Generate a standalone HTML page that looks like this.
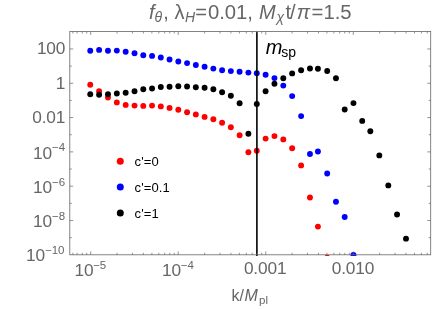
<!DOCTYPE html>
<html><head><meta charset="utf-8"><title>plot</title>
<style>
html,body{margin:0;padding:0;background:#fff;}
body{width:436px;height:309px;overflow:hidden;}
svg{display:block;will-change:transform;}
text{font-family:"Liberation Sans",sans-serif;}
</style></head><body>
<svg width="436" height="309" viewBox="0 0 436 309">
<rect width="436" height="309" fill="#fff"/>
<defs><clipPath id="cp"><rect x="69.8" y="31.5" width="360.9" height="224.4"/></clipPath></defs>
<g clip-path="url(#cp)">
<g fill="#ff0000"><circle cx="90.25" cy="84.70" r="2.95"/><circle cx="99.11" cy="91.30" r="2.95"/><circle cx="107.96" cy="97.60" r="2.95"/><circle cx="116.82" cy="102.40" r="2.95"/><circle cx="125.68" cy="104.90" r="2.95"/><circle cx="134.53" cy="105.60" r="2.95"/><circle cx="143.29" cy="105.90" r="2.95"/><circle cx="152.05" cy="105.60" r="2.95"/><circle cx="160.81" cy="106.40" r="2.95"/><circle cx="169.56" cy="107.90" r="2.95"/><circle cx="178.32" cy="109.70" r="2.95"/><circle cx="187.08" cy="112.20" r="2.95"/><circle cx="195.83" cy="114.40" r="2.95"/><circle cx="204.59" cy="116.90" r="2.95"/><circle cx="213.35" cy="119.20" r="2.95"/><circle cx="222.10" cy="122.70" r="2.95"/><circle cx="230.86" cy="127.30" r="2.95"/><circle cx="239.62" cy="135.30" r="2.95"/><circle cx="248.38" cy="152.20" r="2.95"/><circle cx="256.78" cy="150.70" r="2.95"/><circle cx="265.59" cy="138.60" r="2.95"/><circle cx="274.45" cy="136.10" r="2.95"/><circle cx="283.30" cy="139.40" r="2.95"/><circle cx="292.16" cy="148.20" r="2.95"/><circle cx="301.12" cy="165.40" r="2.95"/><circle cx="309.97" cy="197.50" r="2.95"/><circle cx="317.93" cy="226.60" r="2.95"/><circle cx="327.19" cy="257.70" r="2.95"/></g>
<g fill="#0000ff"><circle cx="90.25" cy="50.80" r="2.95"/><circle cx="99.11" cy="49.90" r="2.95"/><circle cx="107.96" cy="50.70" r="2.95"/><circle cx="116.82" cy="50.60" r="2.95"/><circle cx="125.68" cy="51.80" r="2.95"/><circle cx="134.53" cy="53.30" r="2.95"/><circle cx="143.29" cy="55.20" r="2.95"/><circle cx="152.05" cy="55.90" r="2.95"/><circle cx="160.81" cy="57.50" r="2.95"/><circle cx="169.56" cy="59.50" r="2.95"/><circle cx="178.32" cy="61.50" r="2.95"/><circle cx="187.08" cy="63.10" r="2.95"/><circle cx="195.83" cy="65.00" r="2.95"/><circle cx="204.59" cy="66.80" r="2.95"/><circle cx="213.35" cy="68.60" r="2.95"/><circle cx="222.10" cy="70.30" r="2.95"/><circle cx="230.86" cy="71.10" r="2.95"/><circle cx="239.62" cy="71.80" r="2.95"/><circle cx="248.38" cy="72.60" r="2.95"/><circle cx="256.78" cy="73.30" r="2.95"/><circle cx="265.59" cy="74.80" r="2.95"/><circle cx="274.45" cy="78.10" r="2.95"/><circle cx="283.30" cy="85.60" r="2.95"/><circle cx="292.16" cy="96.10" r="2.95"/><circle cx="301.12" cy="116.10" r="2.95"/><circle cx="309.97" cy="154.00" r="2.95"/><circle cx="317.93" cy="151.45" r="2.95"/><circle cx="327.19" cy="173.50" r="2.95"/><circle cx="335.95" cy="201.70" r="2.95"/><circle cx="344.70" cy="217.00" r="2.95"/><circle cx="353.46" cy="255.00" r="2.95"/></g>
<g fill="#000000"><circle cx="90.25" cy="94.30" r="2.95"/><circle cx="99.11" cy="94.80" r="2.95"/><circle cx="107.96" cy="94.30" r="2.95"/><circle cx="116.82" cy="93.50" r="2.95"/><circle cx="125.68" cy="92.80" r="2.95"/><circle cx="134.53" cy="91.30" r="2.95"/><circle cx="143.29" cy="89.20" r="2.95"/><circle cx="152.05" cy="88.50" r="2.95"/><circle cx="160.81" cy="87.00" r="2.95"/><circle cx="169.56" cy="86.70" r="2.95"/><circle cx="178.32" cy="86.20" r="2.95"/><circle cx="187.08" cy="86.50" r="2.95"/><circle cx="195.83" cy="87.20" r="2.95"/><circle cx="204.59" cy="87.70" r="2.95"/><circle cx="213.35" cy="89.20" r="2.95"/><circle cx="222.10" cy="92.30" r="2.95"/><circle cx="230.86" cy="95.80" r="2.95"/><circle cx="239.62" cy="103.30" r="2.95"/><circle cx="248.38" cy="133.80" r="2.95"/><circle cx="256.78" cy="104.00" r="2.95"/><circle cx="265.59" cy="91.20" r="2.95"/><circle cx="274.45" cy="83.70" r="2.95"/><circle cx="283.30" cy="78.20" r="2.95"/><circle cx="292.16" cy="73.40" r="2.95"/><circle cx="301.12" cy="70.20" r="2.95"/><circle cx="309.97" cy="68.50" r="2.95"/><circle cx="317.93" cy="68.70" r="2.95"/><circle cx="327.19" cy="71.00" r="2.95"/><circle cx="335.95" cy="78.30" r="2.95"/><circle cx="344.70" cy="109.50" r="2.95"/><circle cx="353.46" cy="103.10" r="2.95"/><circle cx="362.22" cy="120.90" r="2.95"/><circle cx="370.32" cy="131.30" r="2.95"/><circle cx="379.33" cy="155.40" r="2.95"/><circle cx="388.29" cy="185.40" r="2.95"/><circle cx="397.05" cy="214.50" r="2.95"/><circle cx="406.00" cy="238.65" r="2.95"/></g>
<line x1="256.9" y1="31.5" x2="256.9" y2="256" stroke="#000" stroke-width="1.6"/>
</g>
<rect x="69.8" y="31.5" width="360.9" height="223.3" fill="none" stroke="#666666" stroke-width="0.8"/>
<path d="M72.90 254.8v-2.0M72.90 31.5v2.0 M77.14 254.8v-2.0M77.14 31.5v2.0 M82.22 254.8v-2.0M82.22 31.5v2.0 M86.69 254.8v-2.0M86.69 31.5v2.0 M90.70 254.8v-3.4M90.70 31.5v3.4 M117.05 254.8v-2.0M117.05 31.5v2.0 M132.46 254.8v-2.0M132.46 31.5v2.0 M143.40 254.8v-2.0M143.40 31.5v2.0 M151.88 254.8v-2.0M151.88 31.5v2.0 M158.81 254.8v-2.0M158.81 31.5v2.0 M164.67 254.8v-2.0M164.67 31.5v2.0 M169.75 254.8v-2.0M169.75 31.5v2.0 M174.22 254.8v-2.0M174.22 31.5v2.0 M178.23 254.8v-3.4M178.23 31.5v3.4 M204.58 254.8v-2.0M204.58 31.5v2.0 M219.99 254.8v-2.0M219.99 31.5v2.0 M230.93 254.8v-2.0M230.93 31.5v2.0 M239.41 254.8v-2.0M239.41 31.5v2.0 M246.34 254.8v-2.0M246.34 31.5v2.0 M252.20 254.8v-2.0M252.20 31.5v2.0 M257.28 254.8v-2.0M257.28 31.5v2.0 M261.75 254.8v-2.0M261.75 31.5v2.0 M265.76 254.8v-3.4M265.76 31.5v3.4 M292.11 254.8v-2.0M292.11 31.5v2.0 M307.52 254.8v-2.0M307.52 31.5v2.0 M318.46 254.8v-2.0M318.46 31.5v2.0 M326.94 254.8v-2.0M326.94 31.5v2.0 M333.87 254.8v-2.0M333.87 31.5v2.0 M339.73 254.8v-2.0M339.73 31.5v2.0 M344.81 254.8v-2.0M344.81 31.5v2.0 M349.28 254.8v-2.0M349.28 31.5v2.0 M353.29 254.8v-3.4M353.29 31.5v3.4 M379.64 254.8v-2.0M379.64 31.5v2.0 M395.05 254.8v-2.0M395.05 31.5v2.0 M405.99 254.8v-2.0M405.99 31.5v2.0 M414.47 254.8v-2.0M414.47 31.5v2.0 M421.40 254.8v-2.0M421.40 31.5v2.0 M427.26 254.8v-2.0M427.26 31.5v2.0 M69.8 237.66h2.0M430.7 237.66h-2.0 M69.8 220.50h3.4M430.7 220.50h-3.4 M69.8 203.35h2.0M430.7 203.35h-2.0 M69.8 186.19h3.4M430.7 186.19h-3.4 M69.8 169.04h2.0M430.7 169.04h-2.0 M69.8 151.88h3.4M430.7 151.88h-3.4 M69.8 134.73h2.0M430.7 134.73h-2.0 M69.8 117.57h3.4M430.7 117.57h-3.4 M69.8 100.42h2.0M430.7 100.42h-2.0 M69.8 83.26h3.4M430.7 83.26h-3.4 M69.8 66.11h2.0M430.7 66.11h-2.0 M69.8 48.95h3.4M430.7 48.95h-3.4" stroke="#666666" stroke-width="0.7" fill="none"/>
<g fill="#666666">
<text x="65.3" y="54.25" text-anchor="end" font-size="17.3" letter-spacing="-0.15">100</text>
<text x="65.3" y="88.56" text-anchor="end" font-size="17.3" letter-spacing="-0.15">1</text>
<text x="65.3" y="122.87" text-anchor="end" font-size="17.3" letter-spacing="-0.15">0.01</text>
<text x="51.90" y="158.68" text-anchor="end" font-size="17.3" letter-spacing="-0.15">10</text><text x="52.10" y="151.38" font-size="11.5" letter-spacing="-0.15">−4</text>
<text x="51.90" y="192.99" text-anchor="end" font-size="17.3" letter-spacing="-0.15">10</text><text x="52.10" y="185.69" font-size="11.5" letter-spacing="-0.15">−6</text>
<text x="51.90" y="227.30" text-anchor="end" font-size="17.3" letter-spacing="-0.15">10</text><text x="52.10" y="220.00" font-size="11.5" letter-spacing="-0.15">−8</text>
<text x="45.00" y="261.31" text-anchor="end" font-size="17.3" letter-spacing="-0.15">10</text><text x="45.20" y="254.41" font-size="11.5" letter-spacing="-0.15">−10</text>
<text x="93.50" y="275.90" text-anchor="end" font-size="17.3" letter-spacing="-0.15">10</text><text x="93.30" y="268.90" font-size="11.5" letter-spacing="-0.15">−5</text>
<text x="181.03" y="275.90" text-anchor="end" font-size="17.3" letter-spacing="-0.15">10</text><text x="180.83" y="268.90" font-size="11.5" letter-spacing="-0.15">−4</text>
<text x="265.16" y="274.2" text-anchor="middle" font-size="17.3" letter-spacing="-0.15">0.001</text>
<text x="352.99" y="274.2" text-anchor="middle" font-size="17.3" letter-spacing="-0.15">0.010</text>
<g font-size="20">
<text x="148.9" y="18.5" font-style="italic">f</text>
<text x="154.6" y="22.0" font-size="14" font-style="italic">θ</text>
<text x="163.2" y="18.5">,</text>
<text x="174.4" y="18.5">λ</text>
<text x="185.0" y="21.8" font-size="14" font-style="italic">H</text>
<text x="195.2" y="18.5">=</text>
<text x="207.9" y="18.5" font-size="20.3">0.01,</text>
<text x="259.1" y="18.5" font-style="italic">M</text>
<text x="276.6" y="21.8" font-size="14" font-style="italic">χ</text>
<text x="285.6" y="18.5">t</text>
<text x="289.9" y="18.5">/</text>
<text x="296.8" y="18.5" font-style="italic">π</text>
<text x="311.6" y="18.5" font-size="20.3">=1.5</text>
</g>
<g font-size="16">
<text x="231.5" y="300.5">k/</text>
<text x="244.5" y="300.5" font-style="italic">M</text>
<text x="259.0" y="303.6" font-size="11.5">pl</text>
</g>
</g>
<g fill="#000"><text x="265.8" y="53.9" font-size="20" font-style="italic">m</text><text x="281.3" y="57.0" font-size="14">sp</text></g>
<g>
<circle cx="120.3" cy="161.3" r="3.5" fill="#ff0000"/>
<circle cx="120.3" cy="187.0" r="3.5" fill="#0000ff"/>
<circle cx="120.3" cy="212.9" r="3.5" fill="#000"/>
<g font-size="13" letter-spacing="0.1" fill="#000">
<text x="134.6" y="166.4">c'=0</text>
<text x="134.6" y="192.3">c'=0.1</text>
<text x="134.6" y="218.2">c'=1</text>
</g>
</g>
</svg>
</body></html>
